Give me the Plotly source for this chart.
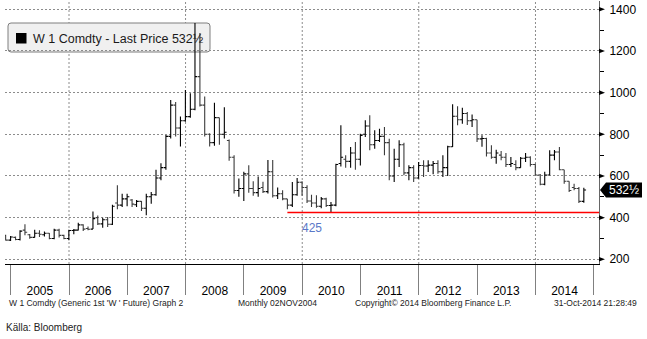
import plotly.graph_objects as go
import pandas as pd

# ---------------- data ----------------
months = pd.date_range("2004-11-30", periods=120, freq=pd.offsets.MonthEnd())

open_ = [315, 292,
         305, 295, 340, 318, 305, 325, 318, 325, 300, 340, 315, 300,
         338, 340, 365, 348, 345, 400, 370, 390, 368, 470, 460, 490,
         485, 462, 478, 445, 500, 510, 590, 640, 790, 940, 830, 865,
         885, 920, 1077, 940, 800, 760, 880, 800, 770, 690, 530, 540,
         610, 540, 520, 545, 525, 620, 505, 515, 490, 460, 510, 570,
         545, 480, 470, 455, 490, 458, 460, 660, 680, 670, 710, 680,
         800, 840, 750, 770, 790, 760, 600, 680, 750, 615, 640, 590,
         650, 648, 652, 660, 620, 640, 740, 887, 870, 900, 865, 870,
         778, 780, 710, 690, 700, 690, 655, 655, 640, 685, 690, 655,
         605, 560, 605, 700, 715, 630, 575, 545, 540, 478]
high = [318, 312,
        310, 340, 368, 322, 342, 339, 333, 326, 347, 347, 318, 342,
        345, 375, 368, 358, 430, 410, 400, 403, 462, 555, 515, 515,
        490, 485, 480, 515, 523, 630, 661, 797, 965, 955, 885, 1013,
        997, 1334, 1286, 981, 805, 952, 880, 930, 775, 700, 588, 620,
        652, 575, 598, 572, 677, 677, 545, 532, 490, 571, 590, 575,
        555, 510, 507, 499, 495, 475, 659, 843, 700, 739, 763, 803,
        867, 891, 819, 827, 835, 779, 731, 771, 760, 651, 651, 667,
        675, 675, 672, 675, 700, 745, 944, 935, 928, 907, 895, 870,
        795, 784, 747, 726, 720, 710, 691, 675, 691, 710, 695, 659,
        610, 620, 723, 725, 739, 630, 575, 563, 547, 543]
low = [290, 288,
       291, 290, 315, 299, 305, 307, 310, 296, 296, 305, 296, 291,
       320, 338, 336, 340, 345, 365, 352, 355, 365, 440, 451, 455,
       451, 451, 432, 411, 467, 505, 580, 630, 780, 790, 741, 860,
       880, 915, 933, 789, 741, 745, 750, 780, 673, 516, 500, 480,
       520, 505, 500, 518, 516, 497, 490, 484, 440, 451, 505, 505,
       470, 451, 447, 445, 451, 425, 455, 646, 640, 640, 630, 650,
       787, 723, 731, 763, 699, 579, 571, 643, 603, 580, 571, 587,
       595, 619, 608, 611, 595, 600, 739, 843, 851, 845, 835, 763,
       740, 694, 683, 659, 675, 643, 643, 627, 640, 667, 646, 603,
       555, 555, 603, 675, 627, 563, 523, 531, 470, 472]
close = [292, 307,
         295, 335, 330, 305, 325, 320, 325, 300, 340, 315, 300, 338,
         340, 365, 345, 344, 395, 370, 390, 368, 455, 460, 490, 500,
         465, 478, 445, 500, 510, 590, 640, 790, 940, 830, 865, 885,
         920, 1077, 940, 800, 760, 880, 800, 810, 690, 530, 540, 610,
         540, 520, 540, 525, 620, 505, 515, 490, 460, 510, 570, 545,
         480, 470, 455, 490, 458, 460, 655, 690, 670, 710, 680, 795,
         840, 750, 770, 790, 760, 600, 680, 750, 615, 640, 590, 650,
         648, 652, 660, 620, 640, 740, 887, 870, 900, 865, 870, 778,
         780, 710, 690, 710, 690, 655, 660, 640, 685, 690, 655, 605,
         560, 605, 700, 715, 630, 575, 530, 540, 478, 532.5]

support_level = 425
support_start = "2009-09-30"
support_end = "2015-02-03"
last_price = 532.5
last_price_text = "532½"

x_range = ["2004-11-26", "2015-02-03"]
y_range = [177.4, 1440]
y_major = [200, 400, 600, 800, 1000, 1200, 1400]
y_minor = [300, 500, 700, 900, 1100, 1300]
years = list(range(2005, 2015))
year_labels = [str(y) for y in years]
grid_years = [2006, 2008, 2010, 2012, 2014]

FONT = "Liberation Sans, Arial, sans-serif"

# ---------------- figure ----------------
fig = go.Figure()
fig.add_trace(go.Ohlc(
    x=months, open=open_, high=high, low=low, close=close,
    increasing=dict(line=dict(color="#000000", width=1.1)),
    decreasing=dict(line=dict(color="#3c3c3c", width=1.1)),
    tickwidth=0.5, hoverinfo="skip", showlegend=False,
))
fig.add_trace(go.Scatter(
    x=[support_start, support_end], y=[support_level, support_level],
    mode="lines", line=dict(color="#ff0000", width=1.5),
    hoverinfo="skip", showlegend=False,
))

shapes = []
# vertical dotted grid every two years
for gy in grid_years:
    shapes.append(dict(type="line", xref="x", yref="paper",
                       x0=f"{gy}-01-01", x1=f"{gy}-01-01", y0=0, y1=1,
                       line=dict(color="#8c8c8c", width=1, dash="2px,2px"),
                       layer="below"))

# legend box (rounded)
def px_x(p):
    return (p - 5) / 594.0

def px_y(p):
    return (264 - p) / 263.0

x0, x1 = px_x(8), px_x(210)
y0, y1 = px_y(52), px_y(23)
rx, ry = 3 / 594.0, 3 / 263.0
path = (f"M {x0+rx},{y1} L {x1-rx},{y1} Q {x1},{y1} {x1},{y1-ry} "
        f"L {x1},{y0+ry} Q {x1},{y0} {x1-rx},{y0} L {x0+rx},{y0} "
        f"Q {x0},{y0} {x0},{y0+ry} L {x0},{y1-ry} Q {x0},{y1} {x0+rx},{y1} Z")
shapes.append(dict(type="path", xref="paper", yref="paper", path=path,
                   fillcolor="#f0f0f0", line=dict(color="#7f7f7f", width=1),
                   layer="between"))
shapes.append(dict(type="rect", xref="paper", yref="paper",
                   x0=px_x(16), x1=px_x(26.5), y0=px_y(43.5), y1=px_y(33),
                   fillcolor="#000000", line=dict(width=0), layer="above"))

# triangle tick markers on the right axis
for v in y_major:
    shapes.append(dict(type="path", xref="paper", yref="y",
                       path=f"M 1.0,{v+11} L {px_x(605)},{v} L 1.0,{v-11} Z",
                       fillcolor="#000000", line=dict(width=0)))

# last-price label
ax_, bl_, br_ = px_x(600), px_x(606), px_x(642)
top_, bot_ = last_price + 36, last_price - 36
shapes.append(dict(type="path", xref="paper", yref="y",
                   path=f"M {ax_},{last_price} L {bl_},{top_} L {br_},{top_} "
                        f"L {br_},{bot_} L {bl_},{bot_} Z",
                   fillcolor="#000000", line=dict(width=0)))

annotations = [
    dict(xref="paper", yref="paper", x=px_x(31), y=px_y(38.5), xanchor="left",
         yanchor="middle", showarrow=False,
         text="W 1 Comdty - Last Price " + last_price_text,
         font=dict(family=FONT, size=12.5, color="#1a1a1a")),
    dict(xref="paper", yref="y", x=px_x(624), y=last_price, xanchor="center",
         yanchor="middle", showarrow=False, text=last_price_text,
         font=dict(family=FONT, size=12, color="#ffffff")),
    dict(xref="x", yref="y", x="2010-03-03", y=support_level, yshift=-16,
         xanchor="center", yanchor="middle", showarrow=False, text="425",
         font=dict(family=FONT, size=12, color="#5a78c8")),
    dict(xref="paper", yref="paper", x=px_x(7), y=px_y(303), xanchor="left",
         yanchor="middle", showarrow=False,
         text="W 1 Comdty (Generic 1st 'W ' Future) Graph 2",
         font=dict(family=FONT, size=8.5, color="#222222")),
    dict(xref="paper", yref="paper", x=px_x(236), y=px_y(303), xanchor="left",
         yanchor="middle", showarrow=False, text="Monthly 02NOV2004",
         font=dict(family=FONT, size=8.5, color="#222222")),
    dict(xref="paper", yref="paper", x=px_x(353), y=px_y(303), xanchor="left",
         yanchor="middle", showarrow=False,
         text="Copyright© 2014 Bloomberg Finance L.P.",
         font=dict(family=FONT, size=8.5, color="#222222")),
    dict(xref="paper", yref="paper", x=px_x(552), y=px_y(303), xanchor="left",
         yanchor="middle", showarrow=False, text="31-Oct-2014 21:28:49",
         font=dict(family=FONT, size=8.5, color="#222222")),
    dict(xref="paper", yref="paper", x=px_x(4), y=px_y(327.5), xanchor="left",
         yanchor="middle", showarrow=False, text="Källa: Bloomberg",
         font=dict(family=FONT, size=10, color="#222222")),
]

fig.update_layout(
    width=647, height=339,
    margin=dict(l=5, r=48, t=1, b=75, pad=0),
    paper_bgcolor="#ffffff", plot_bgcolor="#ffffff",
    showlegend=False,
    shapes=shapes, annotations=annotations,
    font=dict(family=FONT, size=11.5, color="#000000"),
    xaxis=dict(
        type="date", range=x_range, rangeslider=dict(visible=False),
        showgrid=False, zeroline=False,
        tickmode="array", tickvals=[f"{y}-07-02" for y in years],
        ticktext=year_labels,
        ticks="outside", ticklen=16, tickcolor="rgba(0,0,0,0)",
        tickfont=dict(family=FONT, size=12, color="#000000"),
        showline=True, linecolor="#000000", linewidth=1,
        minor=dict(tickmode="array",
                   tickvals=[f"{y}-01-01" for y in range(2005, 2016)],
                   ticks="outside", ticklen=30, tickcolor="#808080",
                   tickwidth=1, showgrid=False),
        fixedrange=True,
    ),
    yaxis=dict(
        side="right", range=y_range, zeroline=False,
        tickmode="array", tickvals=y_major,
        ticktext=[str(v) for v in y_major],
        ticks="outside", ticklen=7, tickcolor="rgba(0,0,0,0)",
        tickfont=dict(family=FONT, size=12, color="#000000"),
        showgrid=True, gridcolor="#8c8c8c", griddash="2px,2px", gridwidth=1,
        showline=True, linecolor="#666666", linewidth=1,
        minor=dict(tickmode="array", tickvals=y_minor, ticks="outside",
                   ticklen=4, tickcolor="#000000", tickwidth=1,
                   showgrid=False),
        fixedrange=True,
    ),
)

fig.write_html("out.html")
